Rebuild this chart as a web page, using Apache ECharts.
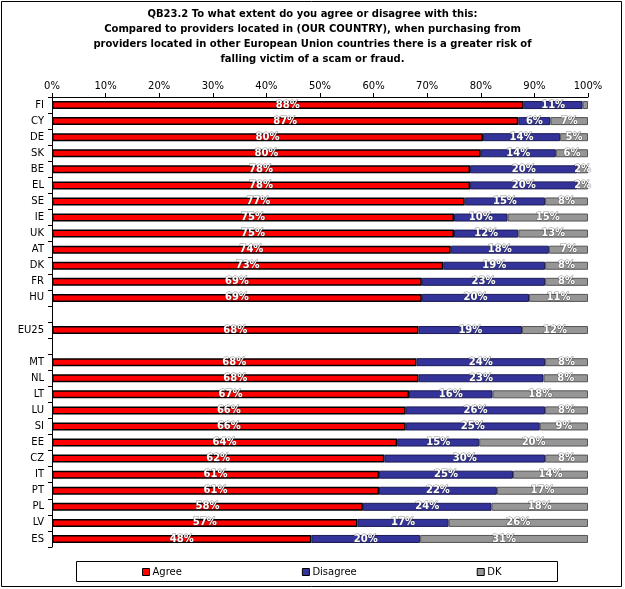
<!DOCTYPE html>
<html><head><meta charset="utf-8">
<script src="https://cdn.jsdelivr.net/npm/echarts@6/dist/echarts.min.js"></script>
<style>html,body{margin:0;padding:0;background:#fff}#c{width:625px;height:589px}</style>
</head><body><div id="c"></div>
<script>
const titleText = 'QB23.2 To what extent do you agree or disagree with this:\nCompared to providers located in (OUR COUNTRY), when purchasing from\nproviders located in other European Union countries there is a greater risk of\nfalling victim of a scam or fraud.';
const categories = ['FI','CY','DE','SK','BE','EL','SE','IE','UK','AT','DK','FR','HU','','EU25',' ','MT','NL','LT','LU','SI','EE','CZ','IT','PT','PL','LV','ES'];
const agree    = [88,87,80.4,80,78,78,77,75,75,74.4,73,69,69,null,68.4,null,68,68.4,66.6,66,66,64.4,62,61,61,58,57,48.4];
const disagree = [11,6,14.4,14,20,20,15,10,12,18.3,19,23,20,null,19.3,null,24,23.3,15.6,26,25,15.3,30,25,22,24,17,20.3];
const dk       = [1,7,5.2,6,2,2,8,15,13,7.3,8,8,11,null,12.3,null,8,8.3,17.8,8,9,20.3,8,14,17,18,26,31.3];
const seriesNames = ['Agree','Disagree','DK'];
const xTicks = [0,10,20,30,40,50,60,70,80,90,100];

const FONT = 'DejaVu Sans';
const chart = echarts.init(document.getElementById('c'), null, {renderer:'canvas'});
const lbl = {
  show: true, position: 'inside', color: '#fff', fontWeight: 'bold', fontSize: 10, fontFamily: FONT,
  textBorderColor: 'rgba(60,60,60,0.6)', textBorderWidth: 1,
  formatter: p => (p.value == null || p.value < 2) ? '' : Math.round(p.value) + '%'
};
function mk(name, data, color, border, bw) {
  return {
    name, type: 'bar', stack: 'all', data, barWidth: 8,
    itemStyle: { color, borderColor: border, borderWidth: bw },
    label: lbl, emphasis: { disabled: true }
  };
}
chart.setOption({
  animation: false,
  textStyle: { fontFamily: FONT },
  title: {
    text: titleText, left: 'center', top: 2,
    textStyle: { fontSize: 10, fontWeight: 'bold', lineHeight: 15, color: '#000', fontFamily: FONT }
  },
  grid: { left: 52, right: 37, top: 97, bottom: 42, containLabel: false },
  xAxis: {
    type: 'value', position: 'top', min: xTicks[0], max: xTicks[xTicks.length-1], interval: 10,
    axisLine: { show: true, lineStyle: { color: '#000', width: 1 } },
    axisTick: { show: true, length: 4, lineStyle: { color: '#000' } },
    axisLabel: { formatter: '{value}%', fontSize: 10, color: '#000', margin: 6, fontFamily: FONT },
    splitLine: { show: false }
  },
  yAxis: {
    type: 'category', inverse: true, data: categories,
    axisLine: { show: true, lineStyle: { color: '#000', width: 1 } },
    axisTick: { show: true, length: 4, lineStyle: { color: '#000' } },
    axisLabel: { fontSize: 10, color: '#000', margin: 8, fontFamily: FONT, interval: 0 }
  },
  legend: {
    data: seriesNames, left: 137, top: 562, itemWidth: 7, itemHeight: 7, itemGap: 120, icon: 'rect',
    textStyle: { fontSize: 10, color: '#000', fontFamily: FONT, padding: [0,0,0,-2] },
    itemStyle: { borderColor: '#000', borderWidth: 1 }
  },
  graphic: [
    { type: 'rect', shape: { x: 76.5, y: 561.5, width: 481, height: 20 }, style: { fill: 'none', stroke: '#000', lineWidth: 1 }, z: -1 },
    { type: 'rect', shape: { x: 1.5, y: 1.5, width: 620, height: 585 }, style: { fill: 'none', stroke: '#000', lineWidth: 1 }, z: -1 }
  ],
  series: [
    mk(seriesNames[0], agree, '#ff0000', '#000', 1.5),
    mk(seriesNames[1], disagree, '#333399', '#1a1a55', 1),
    mk(seriesNames[2], dk, '#969696', '#555', 1)
  ]
});
</script></body></html>
